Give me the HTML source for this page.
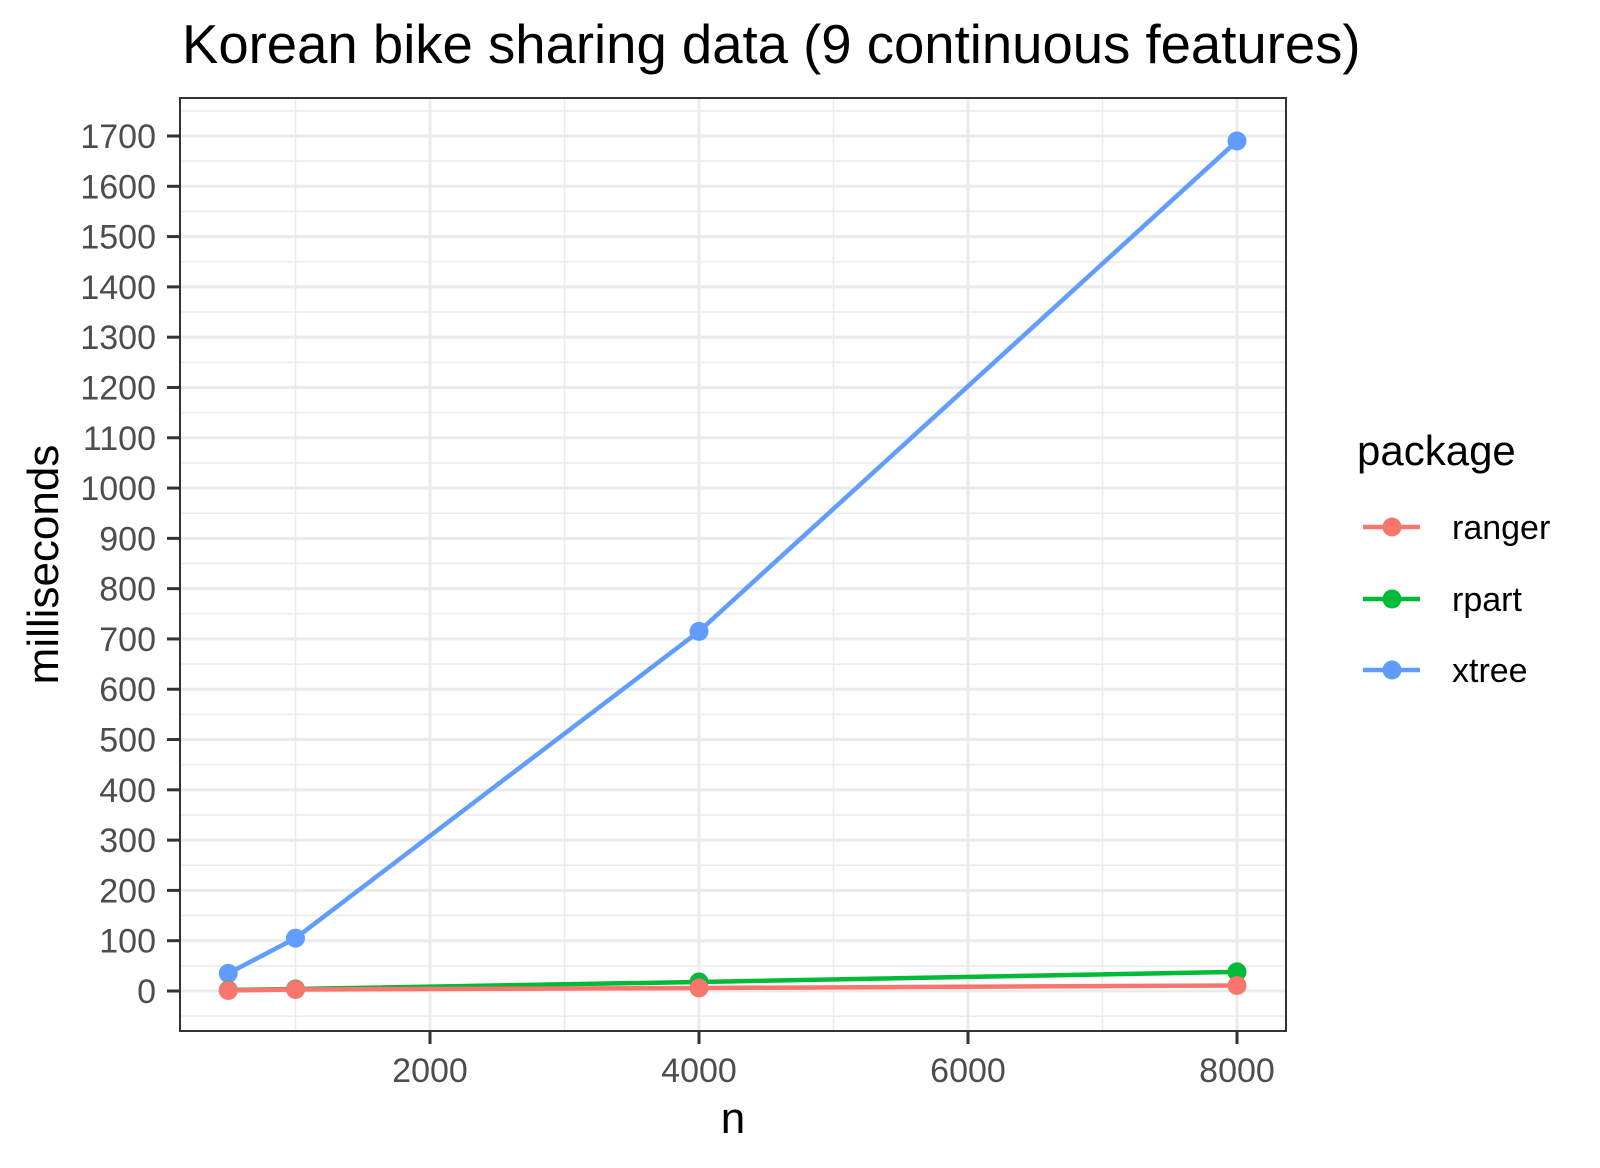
<!DOCTYPE html>
<html><head><meta charset="utf-8"><style>
html,body{margin:0;padding:0;background:#fff;}
svg{display:block;font-family:"Liberation Sans",Arial,sans-serif;}
</style></head><body>
<svg id="chart" width="1600" height="1168" viewBox="0 0 1600 1168">
<text x="182" y="63" font-size="54.5" fill="#000">Korean bike sharing data (9 continuous features)</text>
<g id="grid"></g>
<g id="series"></g>
<rect x="180" y="98" width="1106" height="933" fill="none" stroke="#333" stroke-width="2"/>
<g id="axes"></g>
<text transform="translate(58,564.5) rotate(-90)" text-anchor="middle" font-size="44" fill="#000">milliseconds</text>
<text x="733" y="1133" text-anchor="middle" font-size="44" fill="#000">n</text>
<g id="legend">
<text x="1357" y="465" font-size="42" fill="#000">package</text>
</g>
</svg>
<script>
const nValues = [500, 1000, 4000, 8000];
const rangerMs = [1, 3, 6, 11];
const rpartMs = [2, 4, 18, 38];
const xtreeMs = [35, 105, 715, 1690];
const seriesNames = ['ranger', 'rpart', 'xtree'];
const seriesColors = ['#F8766D', '#00BA38', '#619CFF'];
const yTicks = [0,100,200,300,400,500,600,700,800,900,1000,1100,1200,1300,1400,1500,1600,1700];
const xTicks = [2000, 4000, 6000, 8000];

const NS = 'http://www.w3.org/2000/svg';
const L = 180, R = 1286, T = 98, B = 1031;
function xs(v){ return 430 + (v - 2000) * (1237 - 430) / 6000; }
function ys(v){ return 991 - v * (991 - 136) / 1700; }
function mk(tag, attrs, parent){ const e = document.createElementNS(NS, tag); for (const k in attrs) e.setAttribute(k, attrs[k]); parent.appendChild(e); return e; }

const grid = document.getElementById('grid');
const bg = mk('rect', {x:L, y:T, width:R-L, height:B-T, fill:'#fff'}, grid);


for (let v = -50; v <= 1750; v += 100) {
  const y = ys(v); if (y < T || y > B) continue;
  const g = mk('line', {x1:L, x2:R, y1:y, y2:y, stroke:'#ebebeb', 'stroke-width':1.5}, grid);
  
  
}
for (let v = 1000; v <= 7000; v += 2000) {
  const x = xs(v);
  const g = mk('line', {x1:x, x2:x, y1:T, y2:B, stroke:'#ebebeb', 'stroke-width':1.5}, grid);
  
  
}
const axes = document.getElementById('axes');
yTicks.forEach(v => {
  const y = ys(v);
  const g = mk('line', {x1:L, x2:R, y1:y, y2:y, stroke:'#ebebeb', 'stroke-width':3}, grid);
  
  
  const t = mk('line', {x1:167, x2:L, y1:y, y2:y, stroke:'#333', 'stroke-width':3}, axes);
  
  
  const lb = mk('text', {x:156, y:y+12, 'text-anchor':'end', 'font-size':34, fill:'#4d4d4d'}, axes);
  lb.textContent = v;
  
  
});
xTicks.forEach(v => {
  const x = xs(v);
  const g = mk('line', {x1:x, x2:x, y1:T, y2:B, stroke:'#ebebeb', 'stroke-width':3}, grid);
  
  
  const t = mk('line', {x1:x, x2:x, y1:B, y2:B+13, stroke:'#333', 'stroke-width':3}, axes);
  
  
  const lb = mk('text', {x:x, y:1082, 'text-anchor':'middle', 'font-size':34, fill:'#4d4d4d'}, axes);
  lb.textContent = v;
  
  
});

const seriesG = document.getElementById('series');
[xtreeMs, rpartMs, rangerMs].forEach((vals, k) => {
  const i = 2 - k;
  const col = seriesColors[i];
  const pts = nValues.map((n, j) => xs(n) + ',' + ys(vals[j])).join(' ');
  const pl = mk('polyline', {points:pts, fill:'none', stroke:col, 'stroke-width':4.5}, seriesG);
  
  
  nValues.forEach((n, j) => {
    const c = mk('circle', {cx:xs(n), cy:ys(vals[j]), r:9.5, fill:col}, seriesG);
    
    
  });
});

const leg = document.getElementById('legend');
const legY = [527, 599, 670];
seriesNames.forEach((nm, i) => {
  const y = legY[i];
  const ln = mk('line', {x1:1363, x2:1420, y1:y, y2:y, stroke:seriesColors[i], 'stroke-width':4.5}, leg);
  
  
  const c = mk('circle', {cx:1392, cy:y, r:9.5, fill:seriesColors[i]}, leg);
  
  
  const t = mk('text', {x:1452, y:y+12, 'font-size':34, fill:'#000'}, leg);
  t.textContent = nm;
  
  
});
</script>
</body></html>
